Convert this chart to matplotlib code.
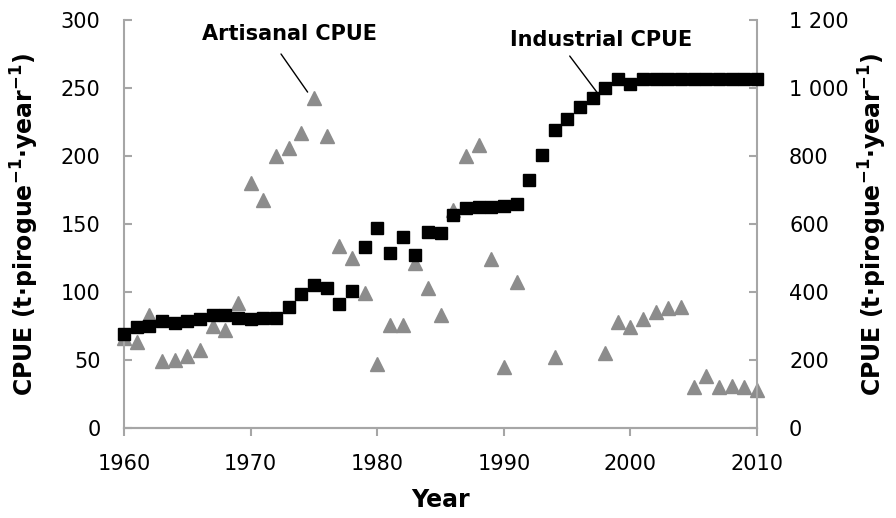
import matplotlib
matplotlib.use("Agg")
import matplotlib.pyplot as plt
from matplotlib.ticker import FuncFormatter

# artisanal CPUE (left axis), years with data only
art_years = [1960, 1961, 1962, 1963, 1964, 1965, 1966, 1967, 1968, 1969,
             1970, 1971, 1972, 1973, 1974, 1975, 1976, 1977, 1978, 1979,
             1980, 1981, 1982, 1983, 1984, 1985, 1986, 1987, 1988, 1989,
             1990, 1991, 1994, 1998, 1999, 2000, 2001, 2002, 2003, 2004,
             2005, 2006, 2007, 2008, 2009, 2010]
art_cpue = [66, 63, 83, 49, 50, 53, 57, 75, 72, 92,
            180, 168, 200, 206, 217, 243, 215, 134, 125, 99,
            47, 76, 76, 121, 103, 83, 160, 200, 208, 124,
            45, 107, 52, 55, 78, 74, 80, 85, 88, 89,
            30, 38, 30, 31, 30, 28]

# industrial CPUE (right axis)
ind_years = list(range(1960, 2011))
ind_cpue = [276, 296, 301, 315, 310, 315, 321, 332, 332, 324,
            320, 324, 324, 357, 394, 421, 413, 365, 404, 531,
            587, 514, 563, 509, 577, 574, 626, 646, 651, 651,
            653, 659, 729, 803, 876, 909, 943, 972, 999, 1026,
            1012, 1025, 1025, 1025, 1025, 1025, 1025, 1025, 1025, 1025,
            1025]

plt.rcParams['mathtext.default'] = 'bf'
ylabel = 'CPUE (t\u00b7pirogue$^{-1}$\u00b7year$^{-1}$)'

spine_col = '#a6a6a6'
fig = plt.figure(figsize=(8.96, 5.18), dpi=100)
ax = fig.add_axes([0.1384, 0.1737, 0.7066, 0.7877])
ax2 = ax.twinx()

ax.plot(art_years, art_cpue, linestyle='none', marker='^', markersize=10,
        color='#8c8c8c', zorder=2, clip_on=False)
ax2.plot(ind_years, ind_cpue, linestyle='none', marker='s', markersize=8,
         color='black', zorder=3, clip_on=False)

ax.set_xlim(1960, 2010)
ax.set_ylim(0, 300)
ax2.set_ylim(0, 1200)
ax.set_xticks(range(1960, 2011, 10))
ax.set_yticks(range(0, 301, 50))
ax2.set_yticks(range(0, 1201, 200))
ax2.yaxis.set_major_formatter(FuncFormatter(lambda v, p: f'{int(v):,}'.replace(',', ' ')))

for a in (ax, ax2):
    for s in a.spines.values():
        s.set_color(spine_col)
        s.set_linewidth(1.5)
    a.spines['top'].set_visible(False)
    a.tick_params(colors=spine_col, labelcolor='black', labelsize=15,
                  length=6, width=1.5)
ax2.spines['left'].set_visible(False)
ax.spines['right'].set_visible(False)
ax.tick_params(axis='y', direction='in', pad=17)
ax2.tick_params(axis='y', direction='in', pad=23)
ax.tick_params(axis='x', direction='out', pad=13)

ax.set_xlabel('Year', fontsize=17, fontweight='bold', labelpad=10)
ax.set_ylabel(ylabel, fontsize=17, fontweight='bold', labelpad=14)
ax2.set_ylabel(ylabel, fontsize=17, fontweight='bold', labelpad=6)

# callout labels
ax.text(1973.1, 290, 'Artisanal CPUE', fontsize=15, fontweight='bold',
        ha='center', va='center')
ax.annotate('', xy=(1974.5, 247), xytext=(1972.4, 275),
            arrowprops=dict(arrowstyle='-', color='black', lw=1,
                            shrinkA=0, shrinkB=0))
ax2.text(1997.7, 1141, 'Industrial CPUE', fontsize=15, fontweight='bold',
         ha='center', va='center')
ax2.annotate('', xy=(1997.4, 985), xytext=(1995.2, 1094),
             arrowprops=dict(arrowstyle='-', color='black', lw=1,
                             shrinkA=0, shrinkB=0))

fig.savefig('out.png', dpi=100)
